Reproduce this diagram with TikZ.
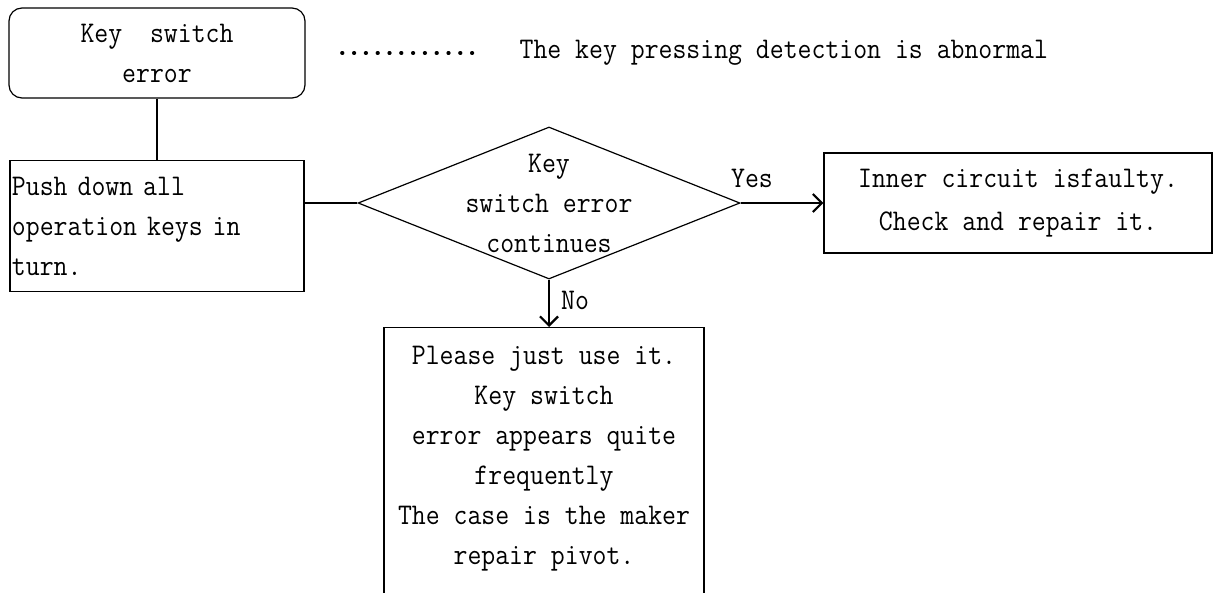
\documentclass[tikz,border=0pt]{standalone}
\usepackage{fontspec}
\setmainfont[FakeStretch=0.9]{Latin Modern Mono}
\usetikzlibrary{arrows.meta,shapes.geometric}
\begin{document}
\begin{tikzpicture}[x=1pt,y=-1pt, line width=1.2pt,
  txt/.style={font=\fontsize{30}{40}\selectfont, inner sep=0pt},
  box/.style={draw, inner sep=0pt},
  arr/.style={line width=2.2pt, -{Straight Barb[length=9pt,width=18pt,line width=2.2pt]}}]
\useasboundingbox (0,0) rectangle (1222,592);
\clip (0,0) rectangle (1222,592);
\fill[white] (0,0) rectangle (1222,592);

\node[box, txt, rounded corners=13pt, minimum width=296pt, minimum height=90pt, align=center] (start) at (157,53) {Key\ \ switch\\error};

\node[box, txt, minimum width=294pt, minimum height=131pt, align=left, text width=290pt, inner xsep=2pt] (push) at (157,226) {Push down all\\operation keys in\\turn.};

\node[draw, diamond, minimum width=382pt, minimum height=152pt, inner sep=0pt] (dec) at (549,203) {};
\node[txt, align=center] (dect) at (549,203) {Key\\switch error\\continues};

\node[box, txt, font=\fontsize{30}{43}\selectfont, minimum width=388pt, minimum height=100pt, align=center] (fault) at (1018,203) {Inner circuit isfaulty.\\Check and repair it.};

\node[box, minimum width=320pt, minimum height=300pt, anchor=north] (use) at (544,327) {};
\node[txt, align=center, anchor=north] (uset) at (544,346) {Please just use it.\\Key switch\\error appears quite\\frequently\\The case is the maker\\repair pivot.};

\node[txt] (yes) at (752,178) {Yes};
\node[txt] (no) at (575,300) {No};

\coordinate (d1) at (342,53);
\coordinate (d2) at (474,53);
\draw[line width=3.6pt, line cap=round, dash pattern=on 0.6pt off 11.2pt] (d1) -- (d2);
\node[txt, anchor=west] (note) at (519,53) {The key pressing detection is abnormal};

\draw (start.south) -- (push.north);
\draw (push.east |- dec.west) -- (dec.west);
\draw[arr] (dec.east) -- (fault.west);
\draw[arr] (dec.south) -- (dec.south |- use.north);
\end{tikzpicture}
\end{document}
